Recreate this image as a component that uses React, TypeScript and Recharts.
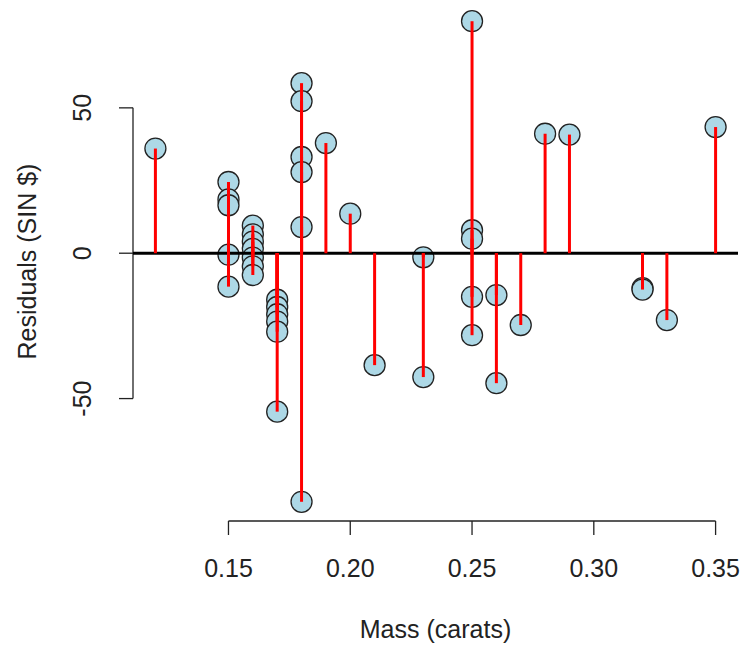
import { ReferenceLine, Scatter, ScatterChart, XAxis, YAxis } from "recharts";

// diamond residuals (carats vs SIN $)
const masses = [
  0.12,
  0.15, 0.15, 0.15, 0.15, 0.15,
  0.16, 0.16, 0.16, 0.16, 0.16, 0.16, 0.16,
  0.17, 0.17, 0.17, 0.17, 0.17, 0.17,
  0.18, 0.18, 0.18, 0.18, 0.18, 0.18,
  0.19, 0.2, 0.21,
  0.23, 0.23,
  0.25, 0.25, 0.25, 0.25, 0.25,
  0.26, 0.26,
  0.27, 0.28, 0.29,
  0.32, 0.32,
  0.33, 0.35,
];
const residuals = [
  36,
  24.5, 18.5, 16.5, -0.5, -11.5,
  9.5, 6.5, 4, 1.5, -1.5, -4.5, -7.5,
  -16, -18.5, -21, -23.5, -27, -54.5,
  58.5, 52.3, 33.1, 27.9, 9, -85.5,
  37.9, 13.6, -38.5,
  -1.4, -42.6,
  79.8, 7.9, 5, -15, -28.2,
  -14.4, -44.7,
  -24.7, 41.1, 40.8,
  -12, -12.5,
  -23, 43.4,
];
const xTicks = [0.15, 0.2, 0.25, 0.3, 0.35];
const yTicks = [-50, 0, 50];

// R pads the data range by 4% on each side
const pad = (vals: number[]): [number, number] => {
  const lo = Math.min(...vals);
  const hi = Math.max(...vals);
  const d = (hi - lo) * 0.04;
  return [lo - d, hi + d];
};
const xDomain = pad(masses);
const yDomain = pad(residuals);

const data = masses.map((m, i) => ({ mass: m, res: residuals[i] }));

const FONT = "Arial, 'Liberation Sans', sans-serif";
const INK = "#222";

const YTick = (props: any) => {
  const { x, y, payload } = props;
  return (
    <text
      x={x}
      y={y}
      transform={`rotate(-90, ${x}, ${y})`}
      textAnchor="middle"
      fontFamily={FONT}
      fontSize={25}
      fill={INK}
    >
      {payload.value}
    </text>
  );
};

export default function App() {
  return (
    <div style={{ position: "absolute", left: 0, top: 0, background: "#fff" }}>
      <ScatterChart
        width={751}
        height={648}
        margin={{ top: 2, right: 13, bottom: 0, left: 0 }}
      >
        <XAxis
          type="number"
          dataKey="mass"
          domain={xDomain}
          ticks={xTicks}
          tickFormatter={(v: number) => v.toFixed(2)}
          height={127}
          tickSize={14}
          tickMargin={24}
          axisLine={false}
          tickLine={{ stroke: INK, strokeWidth: 1.3 }}
          tick={{ fill: INK, fontSize: 25, fontFamily: FONT }}
          allowDataOverflow
          label={{
            content: ({ viewBox }: any) => (
              <text
                x={viewBox.x + viewBox.width / 2}
                y={viewBox.y + 117}
                textAnchor="middle"
                fontFamily={FONT}
                fontSize={25}
                fill={INK}
              >
                Mass (carats)
              </text>
            ),
          }}
        />
        <YAxis
          type="number"
          dataKey="res"
          domain={yDomain}
          ticks={yTicks}
          width={133}
          tickSize={14}
          tickMargin={28}
          axisLine={false}
          tickLine={{ stroke: INK, strokeWidth: 1.3 }}
          tick={YTick}
          allowDataOverflow
          label={{
            content: ({ viewBox }: any) => {
              const cx = 36;
              const cy = viewBox.y + viewBox.height / 2;
              return (
                <text
                  x={cx}
                  y={cy}
                  transform={`rotate(-90, ${cx}, ${cy})`}
                  textAnchor="middle"
                  fontFamily={FONT}
                  fontSize={25}
                  fill={INK}
                >
                  Residuals (SIN $)
                </text>
              );
            },
          }}
        />
        {/* R-style axis lines that stop at the outer ticks */}
        <ReferenceLine
          segment={[
            { x: xDomain[0], y: yTicks[0] },
            { x: xDomain[0], y: yTicks[yTicks.length - 1] },
          ]}
          stroke={INK}
          strokeWidth={1.3}
          ifOverflow="visible"
        />
        <ReferenceLine
          segment={[
            { x: xTicks[0], y: yDomain[0] },
            { x: xTicks[xTicks.length - 1], y: yDomain[0] },
          ]}
          stroke={INK}
          strokeWidth={1.3}
          ifOverflow="visible"
        />
        <Scatter
          data={data}
          isAnimationActive={false}
          zIndex={100}
          shape={(p: any) => (
            <circle
              cx={p.cx}
              cy={p.cy}
              r={10.5}
              fill="#ADD8E6"
              stroke={INK}
              strokeWidth={1.3}
            />
          )}
        />
        <ReferenceLine y={0} stroke="#000" strokeWidth={3} zIndex={700} />
        {/* stems from zero to each residual, drawn over the points */}
        {data.map((d, i) => (
          <ReferenceLine
            key={i}
            segment={[
              { x: d.mass, y: 0 },
              { x: d.mass, y: d.res },
            ]}
            stroke="#FF0000"
            strokeWidth={3}
            zIndex={800}
          />
        ))}
      </ScatterChart>
    </div>
  );
}
